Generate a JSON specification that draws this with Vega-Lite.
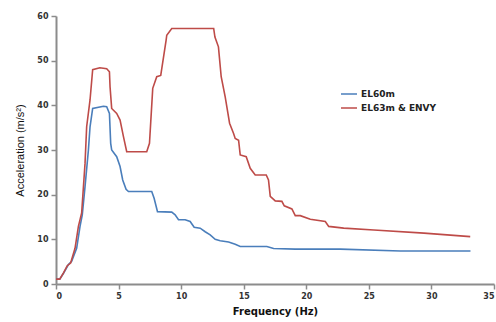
{
  "$schema": "https://vega.github.io/schema/vega-lite/v6.json",
  "width": 438,
  "height": 268,
  "autosize": {"type": "none"},
  "padding": {"left": 56, "top": 16, "right": 2, "bottom": 38},
  "background": "white",
  "config": {
    "view": {"stroke": null},
    "axis": {
      "grid": false,
      "domainColor": "#8c8c8c",
      "domainWidth": 2,
      "tickColor": "#8c8c8c",
      "tickWidth": 1.5,
      "tickSize": 5,
      "labelFont": "DejaVu Sans",
      "labelFontWeight": "bold",
      "labelFontSize": 8,
      "labelColor": "#333333",
      "titleColor": "#111111"
    }
  },
  "data": {
    "values": [
      {"f": 0, "a": 1.1, "s": "EL60m"},
      {"f": 0.3, "a": 1.1, "s": "EL60m"},
      {"f": 0.6, "a": 2.4, "s": "EL60m"},
      {"f": 0.98, "a": 4.3, "s": "EL60m"},
      {"f": 1.25, "a": 5.1, "s": "EL60m"},
      {"f": 1.65, "a": 8, "s": "EL60m"},
      {"f": 1.92, "a": 12.9, "s": "EL60m"},
      {"f": 2.1, "a": 15.5, "s": "EL60m"},
      {"f": 2.32, "a": 21.8, "s": "EL60m"},
      {"f": 2.59, "a": 30, "s": "EL60m"},
      {"f": 2.72, "a": 35.2, "s": "EL60m"},
      {"f": 2.93, "a": 39.3, "s": "EL60m"},
      {"f": 3.79, "a": 39.8, "s": "EL60m"},
      {"f": 4.05, "a": 39.7, "s": "EL60m"},
      {"f": 4.27, "a": 38.2, "s": "EL60m"},
      {"f": 4.37, "a": 31.5, "s": "EL60m"},
      {"f": 4.45, "a": 30, "s": "EL60m"},
      {"f": 4.85, "a": 28.5, "s": "EL60m"},
      {"f": 5.12, "a": 26.3, "s": "EL60m"},
      {"f": 5.33, "a": 23.3, "s": "EL60m"},
      {"f": 5.6, "a": 21.2, "s": "EL60m"},
      {"f": 5.79, "a": 20.7, "s": "EL60m"},
      {"f": 7.65, "a": 20.7, "s": "EL60m"},
      {"f": 7.84, "a": 19.2, "s": "EL60m"},
      {"f": 8.11, "a": 16.2, "s": "EL60m"},
      {"f": 9.25, "a": 16.1, "s": "EL60m"},
      {"f": 9.52, "a": 15.5, "s": "EL60m"},
      {"f": 9.79, "a": 14.4, "s": "EL60m"},
      {"f": 10.32, "a": 14.4, "s": "EL60m"},
      {"f": 10.72, "a": 14.0, "s": "EL60m"},
      {"f": 11.04, "a": 12.7, "s": "EL60m"},
      {"f": 11.52, "a": 12.5, "s": "EL60m"},
      {"f": 11.92, "a": 11.7, "s": "EL60m"},
      {"f": 12.32, "a": 11.0, "s": "EL60m"},
      {"f": 12.72, "a": 10.0, "s": "EL60m"},
      {"f": 13.12, "a": 9.7, "s": "EL60m"},
      {"f": 13.79, "a": 9.4, "s": "EL60m"},
      {"f": 14.32, "a": 8.9, "s": "EL60m"},
      {"f": 14.72, "a": 8.4, "s": "EL60m"},
      {"f": 16.85, "a": 8.4, "s": "EL60m"},
      {"f": 17.39, "a": 7.95, "s": "EL60m"},
      {"f": 19.12, "a": 7.8, "s": "EL60m"},
      {"f": 22.72, "a": 7.8, "s": "EL60m"},
      {"f": 27.52, "a": 7.4, "s": "EL60m"},
      {"f": 33.12, "a": 7.4, "s": "EL60m"},
      {"f": 0, "a": 1.1, "s": "EL63m & ENVY"},
      {"f": 0.3, "a": 1.1, "s": "EL63m & ENVY"},
      {"f": 0.6, "a": 2.5, "s": "EL63m & ENVY"},
      {"f": 0.9, "a": 4.1, "s": "EL63m & ENVY"},
      {"f": 1.17, "a": 4.7, "s": "EL63m & ENVY"},
      {"f": 1.52, "a": 8, "s": "EL63m & ENVY"},
      {"f": 1.79, "a": 12.9, "s": "EL63m & ENVY"},
      {"f": 2.05, "a": 15.9, "s": "EL63m & ENVY"},
      {"f": 2.32, "a": 27, "s": "EL63m & ENVY"},
      {"f": 2.45, "a": 35.2, "s": "EL63m & ENVY"},
      {"f": 2.72, "a": 41.2, "s": "EL63m & ENVY"},
      {"f": 2.93, "a": 48, "s": "EL63m & ENVY"},
      {"f": 3.5, "a": 48.4, "s": "EL63m & ENVY"},
      {"f": 4.05, "a": 48.2, "s": "EL63m & ENVY"},
      {"f": 4.27, "a": 47.5, "s": "EL63m & ENVY"},
      {"f": 4.32, "a": 44.1, "s": "EL63m & ENVY"},
      {"f": 4.45, "a": 39.3, "s": "EL63m & ENVY"},
      {"f": 4.85, "a": 38.2, "s": "EL63m & ENVY"},
      {"f": 5.12, "a": 36.7, "s": "EL63m & ENVY"},
      {"f": 5.39, "a": 33, "s": "EL63m & ENVY"},
      {"f": 5.65, "a": 29.6, "s": "EL63m & ENVY"},
      {"f": 7.25, "a": 29.6, "s": "EL63m & ENVY"},
      {"f": 7.47, "a": 31.5, "s": "EL63m & ENVY"},
      {"f": 7.73, "a": 43.8, "s": "EL63m & ENVY"},
      {"f": 8.05, "a": 46.4, "s": "EL63m & ENVY"},
      {"f": 8.37, "a": 46.7, "s": "EL63m & ENVY"},
      {"f": 8.8, "a": 54.6, "s": "EL63m & ENVY"},
      {"f": 8.85, "a": 55.7, "s": "EL63m & ENVY"},
      {"f": 9.25, "a": 57.2, "s": "EL63m & ENVY"},
      {"f": 12.6, "a": 57.2, "s": "EL63m & ENVY"},
      {"f": 12.7, "a": 55.3, "s": "EL63m & ENVY"},
      {"f": 12.98, "a": 53.1, "s": "EL63m & ENVY"},
      {"f": 13.2, "a": 46.4, "s": "EL63m & ENVY"},
      {"f": 13.52, "a": 41.9, "s": "EL63m & ENVY"},
      {"f": 13.87, "a": 36, "s": "EL63m & ENVY"},
      {"f": 14.19, "a": 33.7, "s": "EL63m & ENVY"},
      {"f": 14.32, "a": 32.6, "s": "EL63m & ENVY"},
      {"f": 14.59, "a": 32.2, "s": "EL63m & ENVY"},
      {"f": 14.72, "a": 28.9, "s": "EL63m & ENVY"},
      {"f": 15.2, "a": 28.5, "s": "EL63m & ENVY"},
      {"f": 15.52, "a": 25.9, "s": "EL63m & ENVY"},
      {"f": 15.92, "a": 24.4, "s": "EL63m & ENVY"},
      {"f": 16.8, "a": 24.4, "s": "EL63m & ENVY"},
      {"f": 16.98, "a": 23.3, "s": "EL63m & ENVY"},
      {"f": 17.12, "a": 19.6, "s": "EL63m & ENVY"},
      {"f": 17.52, "a": 18.6, "s": "EL63m & ENVY"},
      {"f": 18.05, "a": 18.5, "s": "EL63m & ENVY"},
      {"f": 18.24, "a": 17.5, "s": "EL63m & ENVY"},
      {"f": 18.85, "a": 16.8, "s": "EL63m & ENVY"},
      {"f": 19.12, "a": 15.3, "s": "EL63m & ENVY"},
      {"f": 19.52, "a": 15.3, "s": "EL63m & ENVY"},
      {"f": 20.32, "a": 14.5, "s": "EL63m & ENVY"},
      {"f": 21.52, "a": 14.0, "s": "EL63m & ENVY"},
      {"f": 21.79, "a": 12.9, "s": "EL63m & ENVY"},
      {"f": 22.99, "a": 12.5, "s": "EL63m & ENVY"},
      {"f": 25.4, "a": 12.1, "s": "EL63m & ENVY"},
      {"f": 29.4, "a": 11.4, "s": "EL63m & ENVY"},
      {"f": 33.1, "a": 10.6, "s": "EL63m & ENVY"}
    ]
  },
  "mark": {"type": "line", "strokeWidth": 1.6, "interpolate": "linear"},
  "encoding": {
    "x": {
      "field": "f", "type": "quantitative",
      "scale": {"domain": [0, 35], "nice": false},
      "axis": {"values": [0, 5, 10, 15, 20, 25, 30, 35], "title": "Frequency (Hz)", "titleFont": "DejaVu Sans", "titleFontSize": 10, "titleFontWeight": "bold", "titlePadding": 6, "labelPadding": 3}
    },
    "y": {
      "field": "a", "type": "quantitative",
      "scale": {"domain": [0, 60], "nice": false},
      "axis": {"values": [0, 10, 20, 30, 40, 50, 60], "title": "Acceleration (m/s²)", "titleFont": "Liberation Sans", "titleFontSize": 11, "titleFontWeight": "normal", "titlePadding": 11, "labelPadding": 3}
    },
    "color": {
      "field": "s", "type": "nominal",
      "scale": {"domain": ["EL60m", "EL63m & ENVY"], "range": ["#4a7ebb", "#be4b48"]},
      "legend": {
        "title": null,
        "orient": "none",
        "legendX": 284,
        "legendY": 69,
        "symbolType": "stroke",
        "symbolSize": 256,
        "symbolStrokeWidth": 1.5,
        "labelFont": "DejaVu Sans",
        "labelFontWeight": "bold",
        "labelFontSize": 9,
        "labelColor": "#222222",
        "rowPadding": 0,
        "labelOffset": 3
      }
    }
  }
}
